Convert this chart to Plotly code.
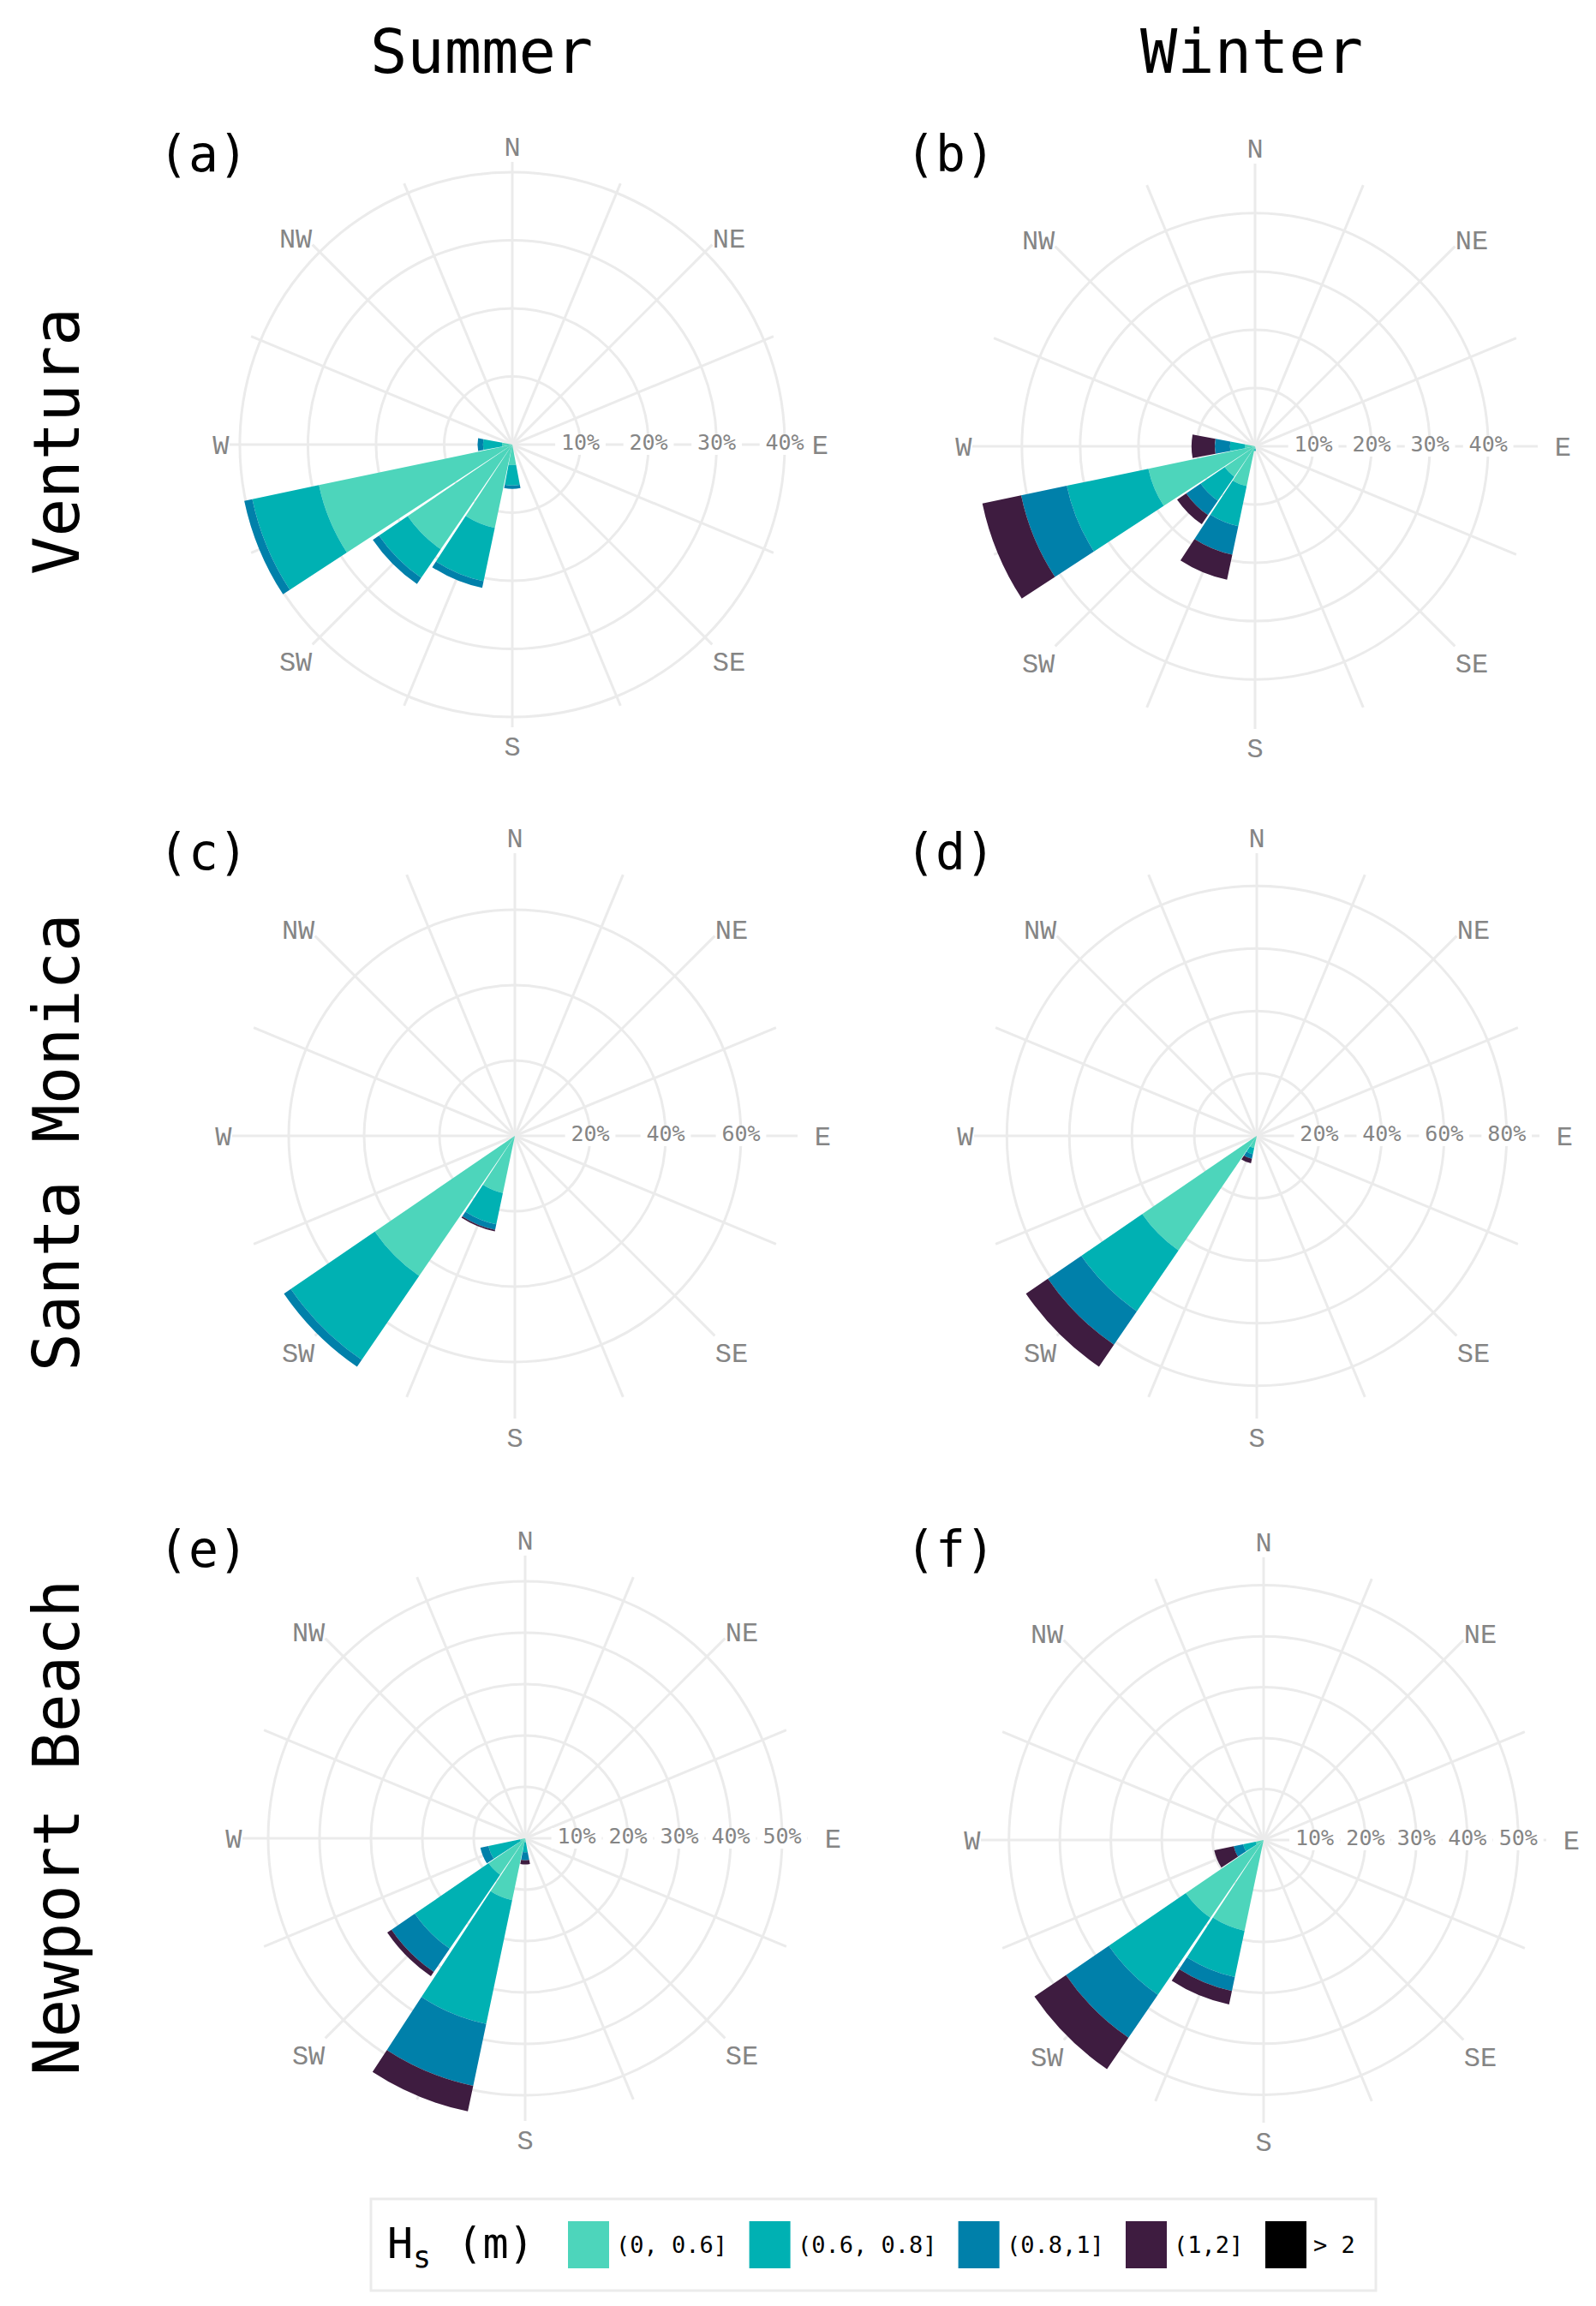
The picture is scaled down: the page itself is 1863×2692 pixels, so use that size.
import plotly.graph_objects as go

W, H = 1863, 2692

# 16-point compass, clockwise from north
directions = ["N", "NNE", "NE", "ENE", "E", "ESE", "SE", "SSE",
              "S", "SSW", "SW", "WSW", "W", "WNW", "NW", "NNW"]
dir_deg = {d: i * 22.5 for i, d in enumerate(directions)}
compass_labels = ["N", "", "NE", "", "\u00a0E", "", "SE", "",
                  "S", "", "SW", "", "W", "", "NW", ""]

hs_classes = ["(0, 0.6]", "(0.6, 0.8]", "(0.8,1]", "(1,2]", "> 2"]
hs_colors = ["#4DD5BB", "#00B1B3", "#0080AA", "#3E1C40", "#000000"]

# (a) Ventura, summer  (% of time)
ven_sum_dirs = ["W", "WSW", "SW", "SSW", "S"]
ven_sum_0_06 = [1.5, 29.0, 18.6, 12.5, 3.0]
ven_sum_06_08 = [2.8, 10.0, 5.1, 8.0, 3.0]
ven_sum_08_1 = [0.8, 1.2, 1.1, 1.0, 0.5]
ven_sum_1_2 = [0, 0, 0, 0, 0]
ven_sum_gt2 = [0, 0, 0, 0, 0]

# (b) Ventura, winter
ven_win_dirs = ["W", "WSW", "SW", "SSW", "S"]
ven_win_0_06 = [1.7, 18.7, 6.3, 7.0, 0.4]
ven_win_06_08 = [2.6, 14.3, 5.0, 7.0, 0.4]
ven_win_08_1 = [2.6, 8.0, 3.0, 5.0, 0]
ven_win_1_2 = [4.0, 6.8, 1.9, 4.4, 0]
ven_win_gt2 = [0, 0, 0, 0, 0]

# (c) Santa Monica, summer
sm_sum_dirs = ["SW", "SSW"]
sm_sum_0_06 = [45.0, 15.5]
sm_sum_06_08 = [27.0, 8.5]
sm_sum_08_1 = [2.2, 1.5]
sm_sum_1_2 = [0, 0.4]
sm_sum_gt2 = [0, 0]

# (d) Santa Monica, winter
sm_win_dirs = ["SW", "SSW"]
sm_win_0_06 = [44.4, 4.0]
sm_win_06_08 = [23.6, 2.0]
sm_win_08_1 = [13.0, 1.5]
sm_win_1_2 = [8.5, 1.5]
sm_win_gt2 = [0, 0]

# (e) Newport Beach, summer
nb_sum_dirs = ["WSW", "SW", "SSW", "S"]
nb_sum_0_06 = [1.0, 8.6, 12.3, 0.8]
nb_sum_06_08 = [6.3, 17.4, 24.6, 1.9]
nb_sum_08_1 = [1.6, 5.5, 12.3, 1.6]
nb_sum_1_2 = [0, 1.0, 5.1, 0.8]
nb_sum_gt2 = [0, 0, 0, 0]

# (f) Newport Beach, winter
nb_win_dirs = ["WSW", "SW", "SSW"]
nb_win_0_06 = [1.6, 18.5, 18.2]
nb_win_06_08 = [2.5, 18.3, 9.3]
nb_win_08_1 = [1.9, 10.2, 2.8]
nb_win_1_2 = [3.9, 7.5, 2.7]
nb_win_gt2 = [0, 0, 0]

panels = [
    dict(tag="(a)", dirs=ven_sum_dirs,
         vals=[ven_sum_0_06, ven_sum_06_08, ven_sum_08_1, ven_sum_1_2, ven_sum_gt2],
         rmax=41.5, ticks=[10, 20, 30, 40], cx=590, cy=511),
    dict(tag="(b)", dirs=ven_win_dirs,
         vals=[ven_win_0_06, ven_win_06_08, ven_win_08_1, ven_win_1_2, ven_win_gt2],
         rmax=48.5, ticks=[10, 20, 30, 40], cx=1457, cy=513),
    dict(tag="(c)", dirs=sm_sum_dirs,
         vals=[sm_sum_0_06, sm_sum_06_08, sm_sum_08_1, sm_sum_1_2, sm_sum_gt2],
         rmax=75, ticks=[20, 40, 60], cx=593, cy=1318),
    dict(tag="(d)", dirs=sm_win_dirs,
         vals=[sm_win_0_06, sm_win_06_08, sm_win_08_1, sm_win_1_2, sm_win_gt2],
         rmax=90.5, ticks=[20, 40, 60, 80], cx=1459, cy=1318),
    dict(tag="(e)", dirs=nb_sum_dirs,
         vals=[nb_sum_0_06, nb_sum_06_08, nb_sum_08_1, nb_sum_1_2, nb_sum_gt2],
         rmax=55, ticks=[10, 20, 30, 40, 50], cx=605, cy=2138),
    dict(tag="(f)", dirs=nb_win_dirs,
         vals=[nb_win_0_06, nb_win_06_08, nb_win_08_1, nb_win_1_2, nb_win_gt2],
         rmax=55.5, ticks=[10, 20, 30, 40, 50], cx=1467, cy=2140),
]
tag_pos = [(229, 172), (1101, 172), (229, 987), (1101, 987), (229, 1801), (1101, 1801)]

R = 330  # polar radius in px
grid = "#EBEBEB"
label_grey = "#858585"
mono = "DejaVu Sans Mono"

fig = go.Figure()
layout = {}
annotations = []
shapes = []

for i, p in enumerate(panels):
    key = "polar" if i == 0 else f"polar{i + 1}"
    theta = [dir_deg[d] for d in p["dirs"]]
    for k, cls in enumerate(hs_classes):
        fig.add_trace(go.Barpolar(
            r=p["vals"][k], theta=theta, width=21.3,
            marker=dict(color=hs_colors[k], line=dict(width=0)),
            name=cls, showlegend=False, subplot=key,
        ))
    # percentage labels sitting on the east spoke, with a white gap behind them
    fig.add_trace(go.Scatterpolar(
        r=p["ticks"], theta=[dir_deg["E"]] * len(p["ticks"]),
        mode="markers+text", text=[f"{t}%" for t in p["ticks"]],
        textposition="middle center",
        textfont=dict(family=mono, size=25, color=label_grey),
        marker=dict(symbol="line-ew", size=42, line=dict(width=24, color="white")),
        showlegend=False, hoverinfo="skip", subplot=key,
    ))
    layout[key] = dict(
        domain=dict(x=[(p["cx"] - R) / W, (p["cx"] + R) / W],
                    y=[1 - (p["cy"] + R) / H, 1 - (p["cy"] - R) / H]),
        bgcolor="white",
        barmode="stack",
        angularaxis=dict(
            rotation=90, direction="clockwise",
            tickmode="array", tickvals=[dir_deg[d] for d in directions],
            ticktext=compass_labels, ticks="",
            showline=False, gridcolor=grid, gridwidth=2.5,
            layer="below traces",
            tickfont=dict(family="Liberation Mono", size=32, color=label_grey),
        ),
        radialaxis=dict(
            range=[0, p["rmax"]], angle=0,
            tickmode="array", tickvals=p["ticks"], showticklabels=False,
            ticks="", showline=False, gridcolor=grid, gridwidth=2.5,
            layer="below traces",
        ),
    )
    tx, ty = tag_pos[i]
    annotations.append(dict(text=p["tag"], x=tx / W, y=1 - ty / H,
                            xref="paper", yref="paper", showarrow=False,
                            xanchor="center", yanchor="middle",
                            font=dict(family=mono, size=58, color="black")))

# column and row headers
for txt, x in [("Summer", 554), ("Winter", 1453)]:
    annotations.append(dict(text=txt, x=x / W, y=1 - 52 / H, xref="paper", yref="paper",
                            showarrow=False, xanchor="center", yanchor="middle",
                            font=dict(family=mono, size=72, color="black")))
for txt, y in [("Ventura", 507), ("Santa Monica", 1326), ("Newport Beach", 2126)]:
    annotations.append(dict(text=txt, x=58 / W, y=1 - y / H, xref="paper", yref="paper",
                            showarrow=False, textangle=-90, xanchor="center", yanchor="middle",
                            font=dict(family=mono, size=74, color="black")))

# legend box drawn by hand so the swatches can be as large as in the original
leg_y0, leg_y1 = 2559, 2666
shapes.append(dict(type="rect", xref="paper", yref="paper",
                   x0=425 / W, x1=1598 / W, y0=1 - leg_y1 / H, y1=1 - leg_y0 / H,
                   line=dict(color=grid, width=3), fillcolor="white"))
annotations.append(dict(text="H<sub>s</sub> (m)", x=442 / W, y=1 - 2614 / H,
                        xref="paper", yref="paper", showarrow=False,
                        xanchor="left", yanchor="middle",
                        font=dict(family=mono, size=50, color="black")))
sx = 655
char_w = 16.2
for cls, col in zip(hs_classes, hs_colors):
    shapes.append(dict(type="rect", xref="paper", yref="paper",
                       x0=sx / W, x1=(sx + 48) / W, y0=1 - 2640 / H, y1=1 - 2585 / H,
                       line=dict(width=0), fillcolor=col))
    annotations.append(dict(text=cls, x=(sx + 54) / W, y=1 - 2612 / H,
                            xref="paper", yref="paper", showarrow=False,
                            xanchor="left", yanchor="middle",
                            font=dict(family=mono, size=27, color="black")))
    sx += 48 + 8 + len(cls) * char_w + 26

fig.update_layout(
    **layout,
    annotations=annotations,
    shapes=shapes,
    showlegend=False,
    width=W, height=H,
    margin=dict(l=0, r=0, t=0, b=0),
    paper_bgcolor="white",
    plot_bgcolor="white",
)

fig.write_html("out.html")
